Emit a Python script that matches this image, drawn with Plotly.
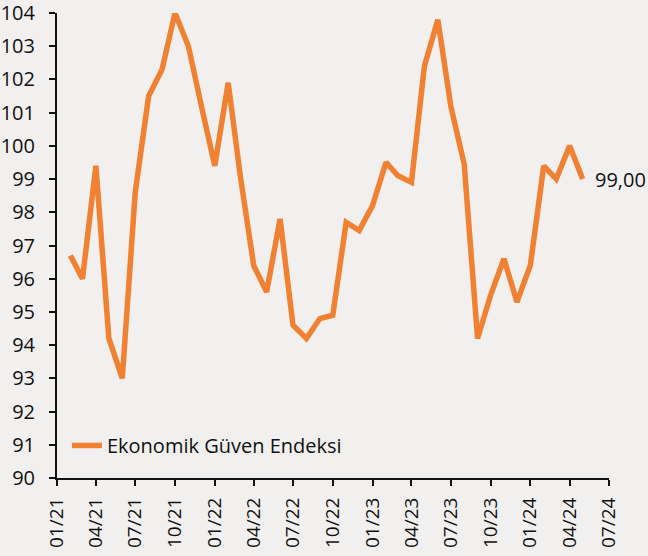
import plotly.graph_objects as go

months = ["2021-02","2021-03","2021-04","2021-05","2021-06","2021-07","2021-08","2021-09","2021-10","2021-11","2021-12",
          "2022-01","2022-02","2022-03","2022-04","2022-05","2022-06","2022-07","2022-08","2022-09","2022-10","2022-11","2022-12",
          "2023-01","2023-02","2023-03","2023-04","2023-05","2023-06","2023-07","2023-08","2023-09","2023-10","2023-11","2023-12",
          "2024-01","2024-02","2024-03","2024-04","2024-05"]
values = [96.7, 96.0, 99.4, 94.2, 93.0, 98.6, 101.5, 102.3, 104.0, 103.0, 101.2,
          99.4, 101.9, 99.1, 96.4, 95.6, 97.8, 94.6, 94.2, 94.8, 94.9, 97.7,
          97.45, 98.2, 99.5, 99.1, 98.9, 102.4, 103.8, 101.2, 99.45, 94.2, 95.5,
          96.6, 95.3, 96.4, 99.4, 99.0, 100.0, 99.0]
series_name = "Ekonomik Güven Endeksi"
last_label = "99,00"

x = [m + "-01" for m in months]
color = "#F08133"
font = "Open Sans"

fig = go.Figure()
fig.add_trace(go.Scatter(x=x, y=values, mode="lines", name=series_name,
                         line=dict(color=color, width=5.5)))
fig.add_annotation(x=x[-1], y=values[-1], text=last_label, showarrow=False,
                   xanchor="left", xshift=10, font=dict(size=20, color="#111", family=font))
fig.update_layout(
    width=648, height=556,
    margin=dict(l=57, r=39, t=13, b=78),
    paper_bgcolor="#f2f0ef", plot_bgcolor="#f2f0ef",
    showlegend=True,
    legend=dict(x=0.018, y=0.07, xanchor="left", yanchor="middle", bgcolor="rgba(0,0,0,0)",
                font=dict(size=20, color="#111", family=font)),
    font=dict(family=font, color="#111"),
)
fig.update_xaxes(type="date", range=["2021-01-01", "2024-07-01"], dtick="M3", tick0="2021-01-01",
                 tickformat="%m/%y", tickangle=-90, ticks="outside", ticklen=6, tickcolor="#111", tickwidth=2,
                 showline=True, linecolor="#111", linewidth=2, showgrid=False, zeroline=False,
                 automargin=False, ticklabeloverflow="allow", ticklabelstandoff=4,
                 tickfont=dict(size=19, family=font, color="#111"))
fig.update_yaxes(range=[90, 104], dtick=1, ticks="outside", ticklen=6, tickcolor="#111", tickwidth=2,
                 showline=True, linecolor="#111", linewidth=2, showgrid=False, zeroline=False,
                 automargin=False, ticklabeloverflow="allow", ticklabelstandoff=10,
                 tickfont=dict(size=20, family=font, color="#111"))
fig.write_html("out.html", config={"displayModeBar": False},
               post_script="document.body.style.margin='0';")
